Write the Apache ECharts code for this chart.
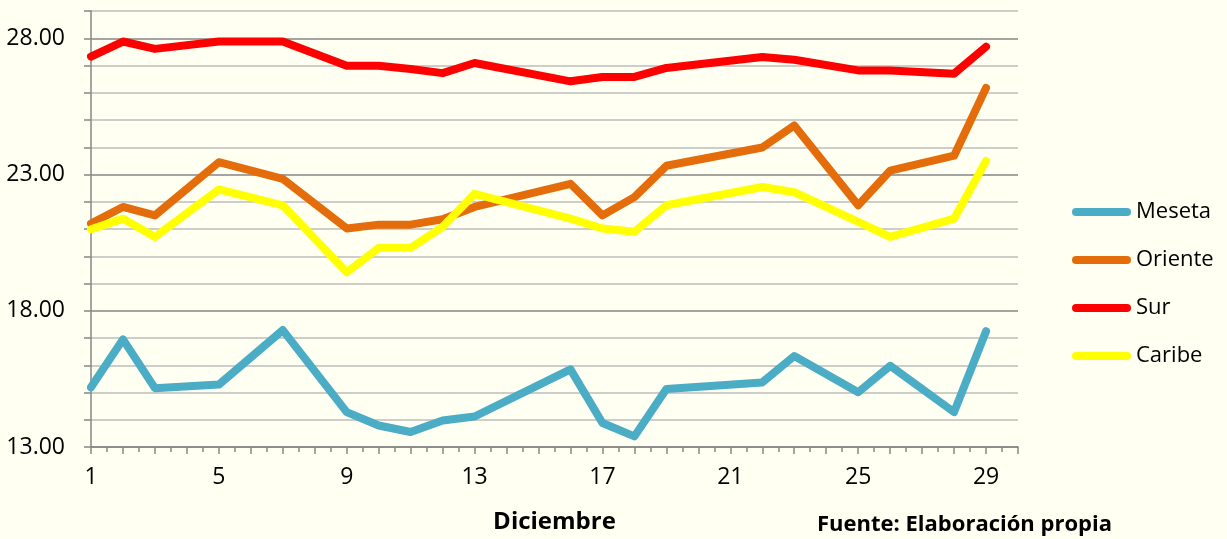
<!DOCTYPE html>
<html>
<head>
<meta charset="utf-8">
<script src="https://cdn.jsdelivr.net/npm/echarts@6/dist/echarts.min.js"></script>
<style>
  html, body { margin: 0; padding: 0; background: #fffff2; }
  #chart { width: 1227px; height: 539px; }
</style>
</head>
<body>
<div id="chart"></div>
<script>
// days of december that have a reading (gaps are joined by a straight line)
const days = [1, 2, 3, 5, 7, 9, 10, 11, 12, 13, 16, 17, 18, 19, 22, 23, 25, 26, 28, 29];
const meseta = [15.19, 16.95, 15.16, 15.29, 17.29, 14.28, 13.79, 13.55, 13.97, 14.12, 15.85, 13.88, 13.39, 15.13, 15.37, 16.34, 15.01, 15.98, 14.28, 17.25];
const oriente = [21.20, 21.81, 21.50, 23.45, 22.84, 21.02, 21.16, 21.16, 21.36, 21.81, 22.66, 21.50, 22.17, 23.32, 23.99, 24.80, 21.87, 23.14, 23.69, 26.18];
const sur = [27.33, 27.88, 27.61, 27.88, 27.88, 26.99, 26.99, 26.87, 26.72, 27.09, 26.42, 26.58, 26.58, 26.91, 27.31, 27.21, 26.82, 26.82, 26.70, 27.69];
const caribe = [20.99, 21.38, 20.71, 22.45, 21.87, 19.41, 20.31, 20.31, 21.08, 22.29, 21.38, 21.02, 20.90, 21.87, 22.54, 22.35, 21.26, 20.71, 21.38, 23.50];
const seriesNames = ['Meseta', 'Oriente', 'Sur', 'Caribe'];
const seriesColors = ['#4bacc6', '#e46c0a', '#ff0000', '#ffff00'];
const yLabels = [13, 18, 23, 28];
const xLabels = [1, 5, 9, 13, 17, 21, 25, 29];

const font = '"Open Sans", Lato, sans-serif';
const axisGray = '#868686';

const chart = echarts.init(document.getElementById('chart'));

const series = [meseta, oriente, sur, caribe].map((vals, i) => ({
    name: seriesNames[i],
    type: 'line',
    color: seriesColors[i],
    symbol: 'none',
    data: days.map((d, j) => [d, vals[j]]),
    lineStyle: { width: 8, cap: 'round', join: 'round', color: seriesColors[i] },
    animation: false
}));

const option = {
    backgroundColor: '#fffff2',
    grid: { left: 91, right: 209, top: 11, bottom: 89 },
    xAxis: {
        type: 'value',
        min: 1,
        max: 30,
        interval: 1,
        name: 'Diciembre',
        nameLocation: 'middle',
        nameGap: 63,
        nameTextStyle: { fontFamily: font, fontWeight: 'bold', fontSize: 24, color: '#000' },
        axisLine: { show: true, lineStyle: { color: axisGray, width: 1.5 } },
        axisTick: { show: true, length: 7, lineStyle: { color: axisGray, width: 1.5 } },
        minorTick: { show: true, splitNumber: 2, length: 5, lineStyle: { color: axisGray, width: 1.5 } },
        axisLabel: {
            margin: 19,
            fontFamily: font,
            fontSize: 23,
            color: '#000',
            formatter: v => xLabels.includes(v) ? String(v) : ''
        },
        splitLine: { show: false }
    },
    yAxis: {
        type: 'value',
        min: 13,
        max: 29,
        interval: 1,
        axisLine: { show: true, lineStyle: { color: axisGray, width: 1.5 } },
        axisTick: { show: true, length: 7, lineStyle: { color: axisGray, width: 1.5 } },
        axisLabel: {
            margin: 26,
            fontFamily: font,
            fontSize: 23,
            color: '#000',
            formatter: v => yLabels.includes(v) ? v.toFixed(2) : ''
        },
        splitLine: {
            show: true,
            lineStyle: { color: [axisGray, '#bdbdbd', '#bdbdbd', '#bdbdbd', '#bdbdbd'], width: 1.5 }
        }
    },
    legend: {
        orient: 'vertical',
        left: 1067,
        top: 195,
        itemWidth: 59,
        itemHeight: 8,
        itemGap: 24,
        icon: 'path://M4,0L55,0A4,4,0,0,1,55,8L4,8A4,4,0,0,1,4,0Z',
        textStyle: { fontFamily: font, fontSize: 22, color: '#000', lineHeight: 24 },
        data: seriesNames
    },
    graphic: [{
        type: 'text',
        left: 817,
        top: 514,
        style: { text: 'Fuente: Elaboración propia', fontFamily: font, fontWeight: 'bold', fontSize: 22, fill: '#000' }
    }],
    series: series
};
chart.setOption(option);
</script>
</body>
</html>
